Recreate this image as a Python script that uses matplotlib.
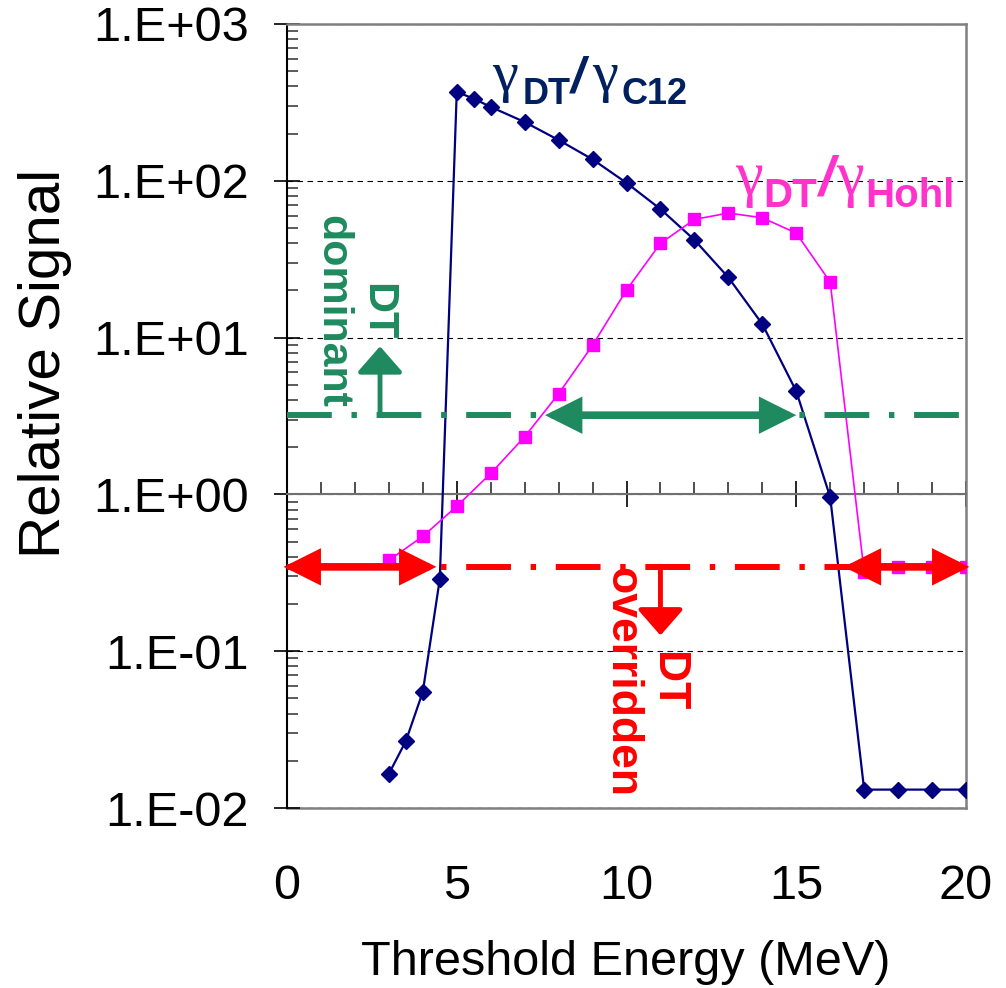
import numpy as np
import matplotlib
matplotlib.use("Agg")
import matplotlib.pyplot as plt
from matplotlib.ticker import LogLocator, MultipleLocator, FuncFormatter, NullFormatter
from matplotlib.transforms import offset_copy

plt.rcParams['font.family'] = ['Liberation Sans', 'DejaVu Sans']

# datos
energia_c12 = [3, 3.5, 4, 4.5, 5, 5.5, 6, 7, 8, 9, 10, 11, 12, 13, 14, 15, 16, 17, 18, 19, 20]
razon_c12 = [0.0165, 0.0267, 0.055, 0.288, 369, 334, 296, 237, 182, 137, 97, 66, 42,
             24.2, 12.2, 4.55, 0.96, 0.0131, 0.0131, 0.0131, 0.0131]

energia_hohl = [3, 4, 5, 6, 7, 8, 9, 10, 11, 12, 13, 14, 15, 16, 17, 18, 19, 20]
razon_hohl = [0.38, 0.54, 0.84, 1.36, 2.33, 4.38, 8.93, 20.1, 39.9, 56.7, 62.3, 58.1,
              46.4, 22.6, 0.32, 0.346, 0.346, 0.346]

nivel_dominante = 3.2
nivel_anulado = 0.345
flecha_verde = (7.6, 15.0)
flecha_roja_izq = (-0.1, 4.4)
flecha_roja_der = (16.4, 20.1)

x_ticks = [0, 5, 10, 15, 20]

AZUL = '#000080'
AZUL_TXT = '#002060'
MAGENTA = '#FF00FF'
MAGENTA_TXT = '#FF33CC'
VERDE = '#1F8A5F'
ROJO = '#FF0000'
GRIS = '#808080'

fig = plt.figure(figsize=(10.06, 9.88), dpi=100)
ax = fig.add_axes([287 / 1006, 1 - 808 / 988, (966 - 287) / 1006, (808 - 24) / 988])

ax.set_yscale('log')
ax.set_xlim(0, 20)
ax.set_ylim(1e-2, 1e3)

# series
ax.plot(energia_c12, razon_c12, '-', color=AZUL, lw=1.6, marker='D', ms=8,
        mec=AZUL, mfc=AZUL, zorder=3)
ax.plot(energia_hohl, razon_hohl, '-', color=MAGENTA, lw=1.2, marker='s', ms=8.5,
        mec=MAGENTA, mfc=MAGENTA, zorder=3)

# lineas de umbral
patron = (0, (7.5, 3.3, 0.9, 3.3))
ax.axhline(nivel_dominante, color=VERDE, lw=4.3, ls=patron, zorder=4)
ax.axhline(nivel_anulado, color=ROJO, lw=4.3, ls=patron, zorder=4)

def flecha_doble(x0, x1, y, color):
    ax.annotate('', xy=(x1, y), xytext=(x0, y),
                arrowprops=dict(arrowstyle='<|-|>,head_length=0.9,head_width=0.45',
                                mutation_scale=20, lw=5.5, color=color,
                                shrinkA=0, shrinkB=0, joinstyle='miter'),
                annotation_clip=False, zorder=5)

flecha_doble(flecha_verde[0], flecha_verde[1], nivel_dominante, VERDE)
flecha_doble(flecha_roja_izq[0], flecha_roja_izq[1], nivel_anulado, ROJO)
flecha_doble(flecha_roja_der[0], flecha_roja_der[1], nivel_anulado, ROJO)

# flechas simples
ax.annotate('', xy=(2.74, 8.8), xytext=(2.74, nivel_dominante),
            arrowprops=dict(arrowstyle='-|>,head_length=0.8,head_width=0.7',
                            mutation_scale=20, lw=3.5, color=VERDE,
                            shrinkA=0, shrinkB=0), zorder=5)
ax.annotate('', xy=(11.0, 0.126), xytext=(11.0, nivel_anulado),
            arrowprops=dict(arrowstyle='-|>,head_length=0.8,head_width=0.7',
                            mutation_scale=20, lw=3.5, color=ROJO,
                            shrinkA=0, shrinkB=0), zorder=5)

ax.text(2.0, 14.6, 'DT\ndominant', rotation=270, ha='center', va='center',
        multialignment='center', fontsize=31, fontweight='bold', color=VERDE,
        linespacing=1.15, zorder=6)
ax.text(10.52, 0.0635, 'DT\noverridden', rotation=270, ha='center', va='center',
        multialignment='center', fontsize=32, fontweight='bold', color=ROJO,
        linespacing=1.15, zorder=6)

# etiquetas de las series, por piezas
def pieza(x, y, s, dx, dy, **kw):
    tr = offset_copy(ax.transData, fig=fig, x=dx, y=dy, units='points')
    ax.text(x, y, s, transform=tr, ha='left', va='baseline', zorder=6, **kw)

griega = ['Liberation Serif', 'DejaVu Serif']

x0, y0 = 6.04, 309
pieza(x0, y0, 'γ', 0, 9, fontsize=42, color=AZUL_TXT, family=griega)
pieza(x0, y0, 'DT', 22, 0, fontsize=26, fontweight='bold', color=AZUL_TXT)
pieza(x0, y0, '/', 57, 9, fontsize=36, fontweight='bold', style='italic', color=AZUL_TXT)
pieza(x0, y0, 'γ', 72, 9, fontsize=42, color=AZUL_TXT, family=griega)
pieza(x0, y0, 'C12', 93, 0, fontsize=26, fontweight='bold', color=AZUL_TXT)

x1, y1 = 13.2, 68.3
pieza(x1, y1, 'γ', 0, 9, fontsize=45, color=MAGENTA_TXT, family=griega)
pieza(x1, y1, 'DT', 20, 0, fontsize=29, fontweight='bold', color=MAGENTA_TXT)
pieza(x1, y1, '/', 60, 9, fontsize=40, fontweight='bold', style='italic', color=MAGENTA_TXT)
pieza(x1, y1, 'γ', 73, 9, fontsize=45, color=MAGENTA_TXT, family=griega)
pieza(x1, y1, 'Hohl', 94, 0, fontsize=29, fontweight='bold', color=MAGENTA_TXT)

# ejes
ax.yaxis.set_major_locator(LogLocator(base=10, numticks=10))
ax.yaxis.set_minor_locator(LogLocator(base=10, subs=np.arange(2, 10), numticks=10))
ax.yaxis.set_major_formatter(FuncFormatter(lambda v, p: f"1.E{int(round(np.log10(v))):+03d}"))
ax.yaxis.set_minor_formatter(NullFormatter())
ax.tick_params(axis='y', which='major', direction='inout', length=19, width=1.2,
               labelsize=35, pad=18, colors='black')
ax.tick_params(axis='y', which='minor', direction='in', length=8, width=1.2, color='#404040')

ax.spines['bottom'].set_position(('data', 1))
ax.spines['bottom'].set_color('#707070')
ax.spines['bottom'].set_linewidth(1.5)
ax.xaxis.set_major_locator(MultipleLocator(5))
ax.xaxis.set_minor_locator(MultipleLocator(1))
ax.tick_params(axis='x', which='major', direction='inout', length=19, width=1.2,
               labelbottom=False, color='black')
ax.tick_params(axis='x', which='minor', direction='in', length=9, width=1.2, color='#303030')

ax.spines['left'].set_color('black')
ax.spines['left'].set_linewidth(1.5)
for lado in ('top', 'right'):
    ax.spines[lado].set_color(GRIS)
    ax.spines[lado].set_linewidth(1.8)

ax.yaxis.grid(True, which='major', color='black', lw=0.8, ls=(0, (5, 4)))

sec = ax.secondary_xaxis(0)
sec.set_xticks(x_ticks)
sec.spines['bottom'].set_color(GRIS)
sec.spines['bottom'].set_linewidth(1.8)
sec.tick_params(axis='x', which='both', length=0, labelsize=35, pad=40)

fig.text(626 / 1006, 1 - 975 / 988, 'Threshold Energy (MeV)', ha='center', va='baseline',
         fontsize=35)
fig.text(45 / 1006, 1 - 363 / 988, 'Relative Signal', rotation=90, ha='center', va='center',
         fontsize=42)

fig.savefig('out.png', dpi=100)
